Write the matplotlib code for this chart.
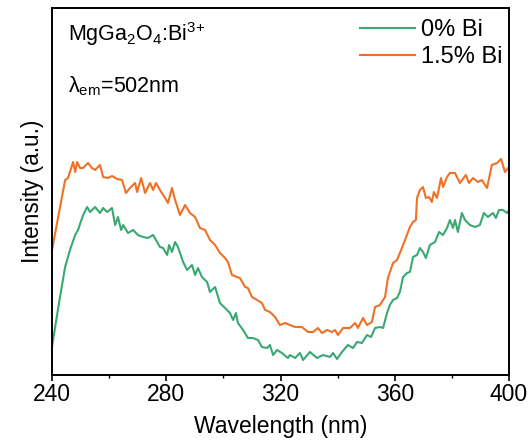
import matplotlib
matplotlib.use("Agg")
import matplotlib.pyplot as plt
from matplotlib.ticker import MultipleLocator

plt.rcParams['font.family'] = ['Liberation Sans', 'DejaVu Sans']
plt.rcParams['mathtext.fontset'] = 'custom'
plt.rcParams['mathtext.rm'] = 'Liberation Sans'
plt.rcParams['mathtext.it'] = 'Liberation Sans:italic'

# 0% Bi excitation spectrum (wavelength nm, intensity a.u.)
wl_0 = [240.0, 241.1, 242.8, 244.6, 246.3, 248.1, 249.1, 250.9, 252.3, 253.3, 255.1, 256.8,
        257.9, 259.3, 261.0, 262.1, 263.1, 264.2, 264.9, 266.6, 268.4, 270.1, 271.9, 273.6,
        275.4, 277.8, 278.9, 280.3, 281.0, 282.0, 283.1, 284.1, 285.9, 287.3, 289.0, 290.1,
        291.1, 292.5, 294.3, 295.3, 297.1, 298.8, 300.6, 302.3, 303.4, 304.4, 305.1, 306.9,
        308.6, 310.4, 312.1, 313.5, 315.3, 316.3, 317.4, 318.8, 320.5, 322.6, 323.3, 325.1,
        326.8, 327.9, 330.3, 332.8, 334.9, 337.3, 338.4, 339.8, 341.5, 343.6, 345.4, 346.8,
        348.5, 350.3, 351.7, 353.1, 354.8, 355.9, 357.3, 358.3, 359.4, 360.8, 361.8, 362.9,
        364.3, 365.3, 366.4, 367.8, 368.8, 369.9, 370.9, 372.3, 374.1, 375.5, 376.9, 378.3,
        379.3, 380.4, 381.1, 382.1, 383.5, 384.6, 386.3, 388.1, 389.8, 391.2, 392.6, 394.4,
        395.4, 396.5, 397.9, 399.3, 400.0]
int_0 = [28, 48, 78, 108, 125, 140, 145, 160, 168, 163, 168, 162,
         167, 163, 167, 150, 158, 145, 150, 142, 145, 140, 138, 137,
         140, 128, 127, 120, 130, 123, 133, 128, 113, 105, 110, 100,
         107, 98, 93, 83, 88, 72, 67, 62, 55, 62, 52, 45,
         37, 37, 35, 28, 27, 30, 20, 25, 22, 17, 20, 17,
         22, 15, 23, 17, 20, 18, 22, 16, 23, 30, 27, 33,
         32, 40, 38, 47, 48, 47, 62, 70, 75, 77, 83, 98,
         102, 103, 118, 120, 127, 123, 117, 130, 133, 143, 140, 147,
         155, 147, 155, 143, 162, 155, 150, 148, 150, 162, 158, 162,
         157, 165, 165, 162, 165]

# 1.5% Bi excitation spectrum
wl_15 = [240.0, 244.6, 245.6, 247.4, 248.1, 248.8, 249.8, 250.9, 252.6, 254.0, 255.1, 256.8,
         257.9, 259.6, 261.0, 262.8, 264.5, 265.9, 267.3, 269.1, 269.8, 271.2, 272.6, 274.3,
         275.4, 276.4, 277.8, 279.6, 280.6, 282.0, 283.1, 284.8, 286.6, 288.3, 290.1, 291.8,
         293.6, 295.3, 297.1, 298.8, 300.6, 301.6, 303.0, 304.8, 305.8, 307.6, 308.6, 310.0,
         311.8, 313.5, 314.6, 316.3, 318.1, 319.8, 321.6, 323.3, 325.1, 327.5, 329.6, 331.4,
         333.1, 334.5, 336.3, 338.0, 339.1, 340.1, 341.9, 344.3, 346.1, 347.1, 348.9, 350.3,
         352.0, 353.1, 354.8, 356.6, 357.6, 359.4, 360.8, 361.8, 363.6, 365.3, 366.4, 367.4,
         367.8, 368.8, 369.9, 370.9, 372.0, 373.0, 373.7, 374.8, 376.2, 376.9, 378.3, 379.3,
         381.1, 382.8, 384.9, 386.0, 387.4, 389.1, 390.5, 392.3, 394.0, 395.8, 397.2, 398.6,
         400.0]
int_15 = [125, 195, 197, 213, 203, 213, 207, 207, 212, 207, 205, 210,
          198, 197, 199, 196, 195, 182, 187, 192, 183, 197, 182, 192,
          185, 192, 185, 177, 172, 187, 175, 160, 170, 162, 158, 147,
          145, 135, 130, 122, 117, 113, 100, 98, 97, 88, 87, 78,
          75, 72, 65, 63, 58, 50, 52, 50, 48, 48, 43, 43,
          47, 42, 45, 43, 45, 40, 47, 47, 52, 47, 57, 50,
          53, 68, 70, 78, 97, 112, 115, 122, 135, 148, 153, 155,
          177, 185, 188, 177, 178, 173, 183, 177, 197, 188, 198, 202,
          202, 192, 200, 192, 197, 193, 195, 187, 210, 212, 216, 203,
          208]

fig = plt.figure(figsize=(5.29, 4.48), dpi=100)
ax = fig.add_axes([52 / 529, 73 / 448, 457 / 529, 367 / 448])

ax.plot(wl_0, int_0, color='#3aa874', lw=1.5, label='0% Bi')
ax.plot(wl_15, int_15, color='#f07125', lw=1.5, label='1.5% Bi')

ax.set_xlim(240, 400)
ax.set_ylim(0, 367)
ax.xaxis.set_major_locator(MultipleLocator(40))
ax.xaxis.set_minor_locator(MultipleLocator(20))
ax.tick_params(axis='x', which='major', direction='out', length=4, width=1.2, labelsize=16.5, pad=2)
ax.tick_params(axis='x', which='minor', direction='out', length=2.5, width=1.0)
ax.set_yticks([])
for s in ax.spines.values():
    s.set_linewidth(1.4)

ax.set_xlabel('Wavelength (nm)', fontsize=16.5, labelpad=6)
ax.set_ylabel('Intensity (a.u.)', fontsize=16.3, labelpad=6)

ax.text(0.035, 0.93, r'MgGa$_2$O$_4$:Bi$^{3{+}}$', transform=ax.transAxes, fontsize=15.5, va='center')
ax.text(0.035, 0.786, r'λ$_{\mathrm{em}}$=502nm', transform=ax.transAxes, fontsize=15.5, va='center')

ax.legend(loc='upper right', frameon=False, fontsize=17, handlelength=2.3, handletextpad=0.25,
          labelspacing=0.22, borderaxespad=0.0, borderpad=0.1, bbox_to_anchor=(0.99, 0.977))

fig.savefig('out.png', dpi=100)
